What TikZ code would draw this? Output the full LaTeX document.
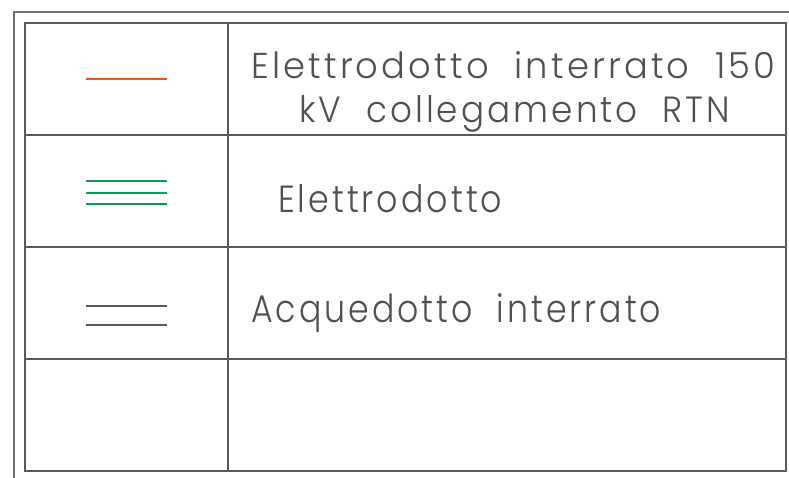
\documentclass[tikz,border=0pt]{standalone}
\usepackage{fontspec}
\setmainfont{Poppins}[UprightFont=* Light,LetterSpace=9]
\usepackage{graphicx}
\definecolor{frame}{HTML}{5A5A5A}
\definecolor{outer}{HTML}{707070}
\definecolor{txt}{HTML}{505050}
\definecolor{redline}{HTML}{FF4A14}
\definecolor{greenline}{HTML}{0E9A4E}
\begin{document}
\begin{tikzpicture}[x=1pt,y=-1pt,
  tbl/.style={draw=frame,line width=2pt},
  legtxt/.style={anchor=base west,inner sep=0pt,text=txt},
  sym/.style={line width=2.2pt}]
\useasboundingbox (0,0) rectangle (789,478);
% outer frame
\draw[outer,line width=1.5pt] (14,478) -- (14,12) -- (789,12);
% table
\draw[tbl] (25,23) rectangle (786,471);
\foreach \y in {135,247,359} \draw[tbl] (25,\y) -- (786,\y);
\draw[tbl] (228,23) -- (228,471);
% symbols
\coordinate (r1a) at (86,79); \coordinate (r1b) at (167,79);
\draw[sym,redline] (r1a) -- (r1b);
\foreach \y [count=\i] in {181,193,204} {
  \coordinate (g\i a) at (86,\y); \coordinate (g\i b) at (167,\y);
  \draw[sym,greenline,line width=1.8pt] (g\i a) -- (g\i b);}
\foreach \y [count=\i] in {306,325} {
  \coordinate (k\i a) at (86,\y); \coordinate (k\i b) at (167,\y);
  \draw[sym,frame,line width=1.8pt] (k\i a) -- (k\i b);}
% texts
\node[legtxt] (t1) at (251,79) {\resizebox{524pt}{27pt}{Elettrodotto\ \ interrato\ \ 150}};
\node[legtxt] (t2) at (299,123) {\resizebox{431pt}{27pt}{kV\ \ collegamento\ \ RTN}};
\node[legtxt] (t3) at (278,213) {\resizebox{224pt}{28pt}{Elettrodotto}};
\node[legtxt] (t4) at (251,322) {\resizebox{410pt}{29pt}{Acquedotto\ \ interrato}};
\end{tikzpicture}
\end{document}
